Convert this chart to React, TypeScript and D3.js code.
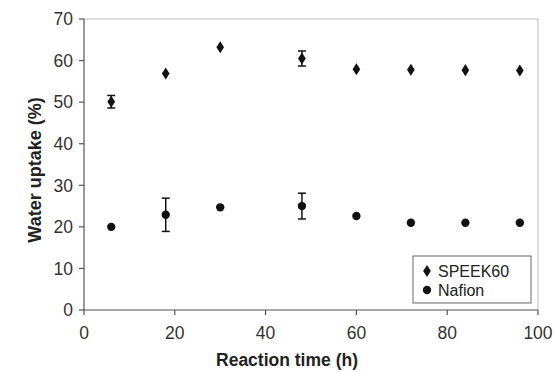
import React from "react";
import * as d3 from "d3";

const times = [6, 18, 30, 48, 60, 72, 84, 96];
const speek60 = [50.1, 56.9, 63.2, 60.5, 57.9, 57.8, 57.7, 57.6];
const speek60Err = [1.5, 0, 0, 1.8, 0, 0, 0, 0];
const nafion = [20.0, 22.9, 24.7, 25.0, 22.6, 21.0, 21.0, 21.0];
const nafionErr = [0, 4.0, 0, 3.1, 0, 0, 0, 0];
const xTicks = [0, 20, 40, 60, 80, 100];
const yTicks = [0, 10, 20, 30, 40, 50, 60, 70];

const W = 554, H = 372;
const L = 84, R = 538, T = 19, B = 310;

export default function App() {
  const x = d3.scaleLinear().domain([0, 100]).range([L, R]);
  const y = d3.scaleLinear().domain([0, 70]).range([B, T]);
  const font = "Arial, 'Liberation Sans', sans-serif";
  const diamond = d3.symbol().type(d3.symbolDiamond).size(42)();
  const circle = d3.symbol().type(d3.symbolCircle).size(55)();
  const axisColor = "#555";

  const errBar = (xi: number, v: number, e: number, key: string) =>
    e > 0 ? (
      <g key={key} stroke="#111" strokeWidth={1.5}>
        <line x1={x(xi)} x2={x(xi)} y1={y(v + e)} y2={y(v - e)} />
        <line x1={x(xi) - 4} x2={x(xi) + 4} y1={y(v + e)} y2={y(v + e)} />
        <line x1={x(xi) - 4} x2={x(xi) + 4} y1={y(v - e)} y2={y(v - e)} />
      </g>
    ) : null;

  return (
    <svg width={W} height={H} style={{ position: "absolute", left: 0, top: 0, background: "#fff" }}>
      <rect x={0} y={0} width={W} height={H} fill="#fff" />
      {/* frame top and right */}
      <line x1={L} x2={R} y1={T} y2={T} stroke="#bbb" strokeWidth={1} />
      <line x1={R} x2={R} y1={T} y2={B} stroke="#bbb" strokeWidth={1} />
      {/* axes */}
      <line x1={L} x2={L} y1={T} y2={B} stroke={axisColor} strokeWidth={1.2} />
      <line x1={L} x2={R} y1={B} y2={B} stroke={axisColor} strokeWidth={1.2} />
      {yTicks.map((t) => (
        <g key={"y" + t}>
          <line x1={L - 5} x2={L} y1={y(t)} y2={y(t)} stroke={axisColor} strokeWidth={1.2} />
          <text x={L - 11} y={y(t)} dy="0.36em" textAnchor="end" fontFamily={font} fontSize={17.5} fill="#333">
            {t}
          </text>
        </g>
      ))}
      {xTicks.map((t) => (
        <g key={"x" + t}>
          <line x1={x(t)} x2={x(t)} y1={B} y2={B + 5} stroke={axisColor} strokeWidth={1.2} />
          <text x={x(t)} y={B + 29} textAnchor="middle" fontFamily={font} fontSize={17.5} fill="#333">
            {t}
          </text>
        </g>
      ))}
      <text x={287} y={366} textAnchor="middle" fontFamily={font} fontSize={17.5} fontWeight="bold" fill="#222">
        Reaction time (h)
      </text>
      <text
        transform={`translate(41,170) rotate(-90)`}
        textAnchor="middle"
        fontFamily={font}
        fontSize={18}
        fontWeight="bold"
        fill="#222"
      >
        Water uptake (%)
      </text>
      {/* data */}
      {times.map((t, i) => errBar(t, speek60[i], speek60Err[i], "se" + i))}
      {times.map((t, i) => errBar(t, nafion[i], nafionErr[i], "ne" + i))}
      {times.map((t, i) => (
        <path key={"s" + i} d={diamond!} transform={`translate(${x(t)},${y(speek60[i])}) scale(1.1,1)`} fill="#111" />
      ))}
      {times.map((t, i) => (
        <path key={"n" + i} d={circle!} transform={`translate(${x(t)},${y(nafion[i])})`} fill="#111" />
      ))}
      {/* legend */}
      <rect x={413} y={256} width={118} height={47} fill="#fff" stroke="#666" strokeWidth={1} />
      <path d={diamond!} transform="translate(427,271) scale(1.1,1)" fill="#111" />
      <text x={438} y={277} fontFamily={font} fontSize={16} fill="#222">SPEEK60</text>
      <path d={circle!} transform="translate(427,290)" fill="#111" />
      <text x={438} y={296} fontFamily={font} fontSize={16} fill="#222">Nafion</text>
    </svg>
  );
}
